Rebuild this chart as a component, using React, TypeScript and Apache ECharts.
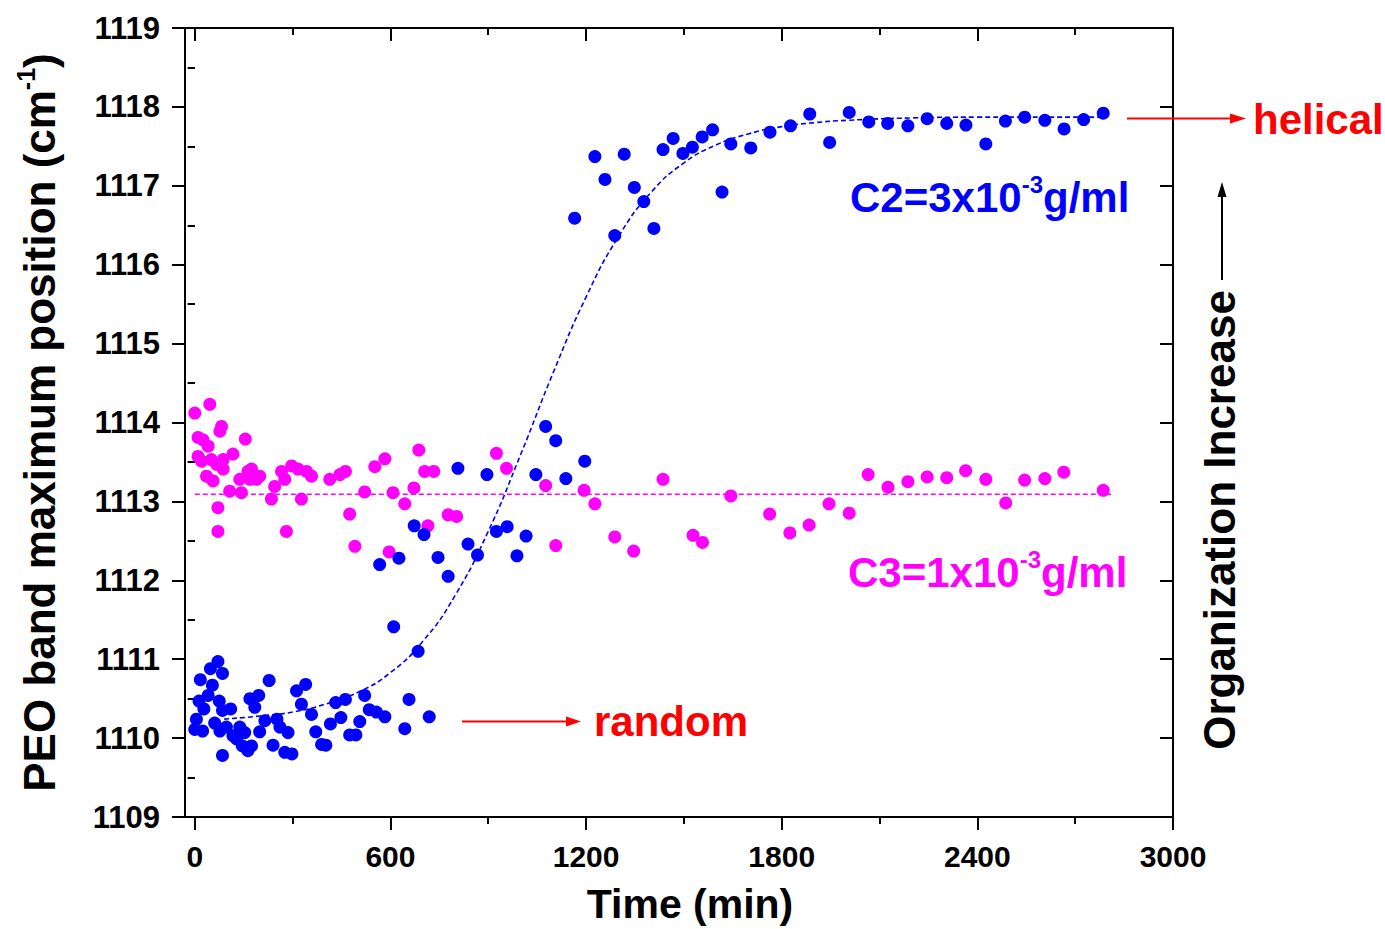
import React, { useEffect, useRef } from 'react';
import * as echarts from 'echarts';

// ---- Data ----
const c2Time = [
  685, 17, 48, 71, 85, 54, 228, 13, 41, 28,
  75, 85, 110, 169, 196, 184, 5, 0, 24, 61,
  77, 97, 117, 138, 153, 128, 146, 174, 163, 85,
  199, 215, 240, 252, 261, 286, 276, 298, 312, 340,
  327, 358, 371, 389, 402, 416, 432, 462, 448, 506,
  475, 494, 521, 535, 557, 583, 644, 657, 719, 567,
  626, 610, 673, 703, 746, 777, 807, 838, 867,
  896, 925, 958, 1016, 988, 1046, 1076, 1107, 1138, 1196,
  1165, 1227, 1258, 1288, 1317, 1348, 1377, 1408, 1436, 1467,
  1497, 1526, 1556, 1588, 1617, 1644, 1705, 1764, 1827, 1886,
  1947, 2007, 2067, 2125, 2187, 2246, 2306, 2365, 2426, 2486,
  2545, 2607, 2666, 2726, 2786,
];
const c2Value = [
  1111.10, 1110.74, 1110.88, 1110.97, 1110.82, 1110.67, 1110.73, 1110.47, 1110.54, 1110.37,
  1110.47, 1110.35, 1110.37, 1110.50, 1110.54, 1110.39, 1110.24, 1110.11, 1110.09, 1110.19,
  1110.09, 1110.14, 1110.03, 1110.14, 1110.07, 1109.99, 1109.90, 1109.90, 1109.84, 1109.78,
  1110.08, 1110.22, 1109.91, 1110.24, 1110.14, 1110.07, 1109.82, 1109.80, 1110.60, 1110.68,
  1110.43, 1110.30, 1110.08, 1109.92, 1109.91, 1110.18, 1110.45, 1110.49, 1110.26, 1110.21,
  1110.04, 1110.04, 1110.54, 1110.36, 1110.33, 1110.27, 1110.12, 1110.49, 1110.27, 1112.20,
  1112.28, 1111.41, 1112.69, 1112.58, 1112.29, 1112.05, 1113.42, 1112.46, 1112.32,
  1113.34, 1112.62, 1112.68, 1112.56, 1112.31, 1113.34, 1113.95, 1113.77, 1113.29, 1113.51,
  1116.59, 1117.37, 1117.08, 1116.37, 1117.40, 1116.98, 1116.80, 1116.46, 1117.46, 1117.60,
  1117.41, 1117.49, 1117.62, 1117.71, 1116.92, 1117.53, 1117.48, 1117.68, 1117.76, 1117.91,
  1117.55, 1117.93, 1117.81, 1117.79, 1117.76, 1117.85, 1117.79, 1117.77, 1117.53, 1117.82,
  1117.87, 1117.83, 1117.72, 1117.84, 1117.92,
];

const c3Time = [
  0, 46, 82, 77, 10, 25, 41, 10, 21, 51,
  87, 67, 87, 117, 155, 36, 56, 71, 71, 107,
  143, 138, 163, 174, 189, 199, 169, 245, 266, 276,
  235, 297, 317, 343, 358, 327, 281, 414, 445, 462,
  521, 475, 491, 552, 583, 596, 608, 644, 672, 687,
  705, 733, 715, 777, 803, 925, 956, 1076, 1194, 1227,
  1107, 1288, 1346, 1436, 1528, 1557, 1644, 1763, 1825, 1884,
  1945, 2007, 2065, 2126, 2187, 2246, 2306, 2364, 2426, 2487,
  2545, 2607, 2665, 2786,
];
const c3Value = [
  1114.12, 1114.23, 1113.95, 1113.89, 1113.81, 1113.78, 1113.70, 1113.57, 1113.51, 1113.53,
  1113.53, 1113.47, 1113.41, 1113.60, 1113.79, 1113.32, 1113.26, 1112.92, 1112.62, 1113.13,
  1113.11, 1113.28, 1113.38, 1113.41, 1113.28, 1113.32, 1113.28, 1113.19, 1113.38, 1113.28,
  1113.03, 1113.45, 1113.41, 1113.38, 1113.32, 1113.03, 1112.62, 1113.28, 1113.34, 1113.38,
  1113.12, 1112.84, 1112.43, 1113.44, 1113.54, 1112.36, 1113.11, 1112.97, 1113.17, 1113.65,
  1113.38, 1113.38, 1112.69, 1112.83, 1112.81, 1113.61, 1113.42, 1113.20, 1113.14, 1112.97,
  1112.44, 1112.55, 1112.37, 1113.28, 1112.57, 1112.48, 1113.07, 1112.84, 1112.60, 1112.70,
  1112.97, 1112.85, 1113.34, 1113.18, 1113.25, 1113.31, 1113.30, 1113.39, 1113.28, 1112.98,
  1113.27, 1113.29, 1113.37, 1113.14,
];

// Fitted curves
const fitC2Time = [90, 200, 300, 400, 500, 600, 700, 800, 900, 1000, 1100, 1200, 1300, 1400, 1500, 1600, 1700, 1800, 1900, 2000, 2200, 2400, 2600, 2800];
const fitC2Value = [1110.24, 1110.28, 1110.33, 1110.43, 1110.58, 1110.83, 1111.23, 1111.82, 1112.62, 1113.60, 1114.64, 1115.59, 1116.36, 1116.92, 1117.29, 1117.52, 1117.66, 1117.75, 1117.80, 1117.83, 1117.86, 1117.87, 1117.87, 1117.87];
const fitC3Time = [0, 2810];
const fitC3Value = [1113.09, 1113.09];

// Axis ticks
const xMajorTicks = [0, 600, 1200, 1800, 2400, 3000];
const xMinorTicks = [300, 900, 1500, 2100, 2700];
const yMajorTicks = [1109, 1110, 1111, 1112, 1113, 1114, 1115, 1116, 1117, 1118, 1119];
const yMinorTicks = [1109.5, 1110.5, 1111.5, 1112.5, 1113.5, 1114.5, 1115.5, 1116.5, 1117.5, 1118.5];

const FONT = "'Liberation Sans', Arial, Helvetica, sans-serif";
const BLUE = '#0000ff';
const MAGENTA = '#ff00ff';
const RED = '#ff0000';

const zip = (a: number[], b: number[]) => a.map((v, i) => [v, b[i]]);
const plain = (v: number) => String(v);

export default function App() {
  const ref = useRef<HTMLDivElement>(null);

  useEffect(() => {
    if (!ref.current) return;
    const chart = echarts.init(ref.current, null, { renderer: 'svg' });

    const xBase = { type: 'value', min: -30, max: 3000, splitLine: { show: false } };
    const yBase = { type: 'value', min: 1109, max: 1119, splitLine: { show: false } };
    const axisLine = { show: true, onZero: false, lineStyle: { color: '#000', width: 2 } };
    const noLine = { show: false };
    const noLabel = { show: false };

    const option: any = {
      animation: false,
      backgroundColor: '#ffffff',
      grid: { left: 185, right: 212, top: 28, bottom: 111, containLabel: false },
      xAxis: [
        {
          ...xBase,
          position: 'bottom',
          axisLine,
          axisTick: { show: true, inside: false, length: 13, customValues: xMajorTicks, lineStyle: { color: '#000', width: 2 } },
          axisLabel: {
            show: true, customValues: xMajorTicks, margin: 24, formatter: plain,
            color: '#000', fontSize: 30, fontWeight: 'bold', fontFamily: FONT,
          },
          name: 'Time (min)',
          nameLocation: 'middle',
          nameGap: 66,
          nameTextStyle: { color: '#000', fontSize: 41, fontWeight: 'bold', fontFamily: FONT, padding: [0, 0, 0, 22] },
        },
        {
          ...xBase, position: 'bottom', axisLine: noLine, axisLabel: noLabel,
          axisTick: { show: true, inside: false, length: 7, customValues: xMinorTicks, lineStyle: { color: '#000', width: 2 } },
        },
        {
          ...xBase, position: 'top', axisLine, axisLabel: noLabel,
          axisTick: { show: true, inside: true, length: 13, customValues: xMajorTicks, lineStyle: { color: '#000', width: 2 } },
        },
        {
          ...xBase, position: 'top', axisLine: noLine, axisLabel: noLabel,
          axisTick: { show: true, inside: true, length: 7, customValues: xMinorTicks, lineStyle: { color: '#000', width: 2 } },
        },
      ],
      yAxis: [
        {
          ...yBase,
          position: 'left',
          axisLine,
          axisTick: { show: true, inside: false, length: 13, customValues: yMajorTicks, lineStyle: { color: '#000', width: 2 } },
          axisLabel: {
            show: true, customValues: yMajorTicks, margin: 25, formatter: plain,
            color: '#000', fontSize: 31, fontWeight: 'bold', fontFamily: FONT,
          },
          name: '{a|PEO band maximum position (cm}{s|-1}{a|)}',
          nameLocation: 'middle',
          nameGap: 120,
          nameTextStyle: {
            rich: {
              a: { fontSize: 44, fontWeight: 'bold', fontFamily: FONT, color: '#000', lineHeight: 52 },
              s: { fontSize: 25, fontWeight: 'bold', fontFamily: FONT, color: '#000', lineHeight: 25, verticalAlign: 'top' },
            },
          },
        },
        {
          ...yBase, position: 'left', axisLine: noLine, axisLabel: noLabel,
          axisTick: { show: true, inside: false, length: 7, customValues: yMinorTicks, lineStyle: { color: '#000', width: 2 } },
        },
        {
          ...yBase, position: 'right', axisLine, axisLabel: noLabel,
          axisTick: { show: true, inside: true, length: 13, customValues: yMajorTicks, lineStyle: { color: '#000', width: 2 } },
        },
        {
          ...yBase, position: 'right', axisLine: noLine, axisLabel: noLabel,
          axisTick: { show: true, inside: true, length: 7, customValues: yMinorTicks, lineStyle: { color: '#000', width: 2 } },
        },
      ],
      series: [
        {
          name: 'C3 fit', type: 'line', xAxisIndex: 0, yAxisIndex: 0,
          data: zip(fitC3Time, fitC3Value), showSymbol: false, z: 1,
          lineStyle: { color: MAGENTA, width: 1.6, type: [5, 3] },
        },
        {
          name: 'C2 fit', type: 'line', xAxisIndex: 0, yAxisIndex: 0, smooth: true,
          data: zip(fitC2Time, fitC2Value), showSymbol: false, z: 1,
          lineStyle: { color: BLUE, width: 1.6, type: [5, 3] },
        },
        {
          name: 'C3', type: 'scatter', xAxisIndex: 0, yAxisIndex: 0,
          data: zip(c3Time, c3Value), symbol: 'circle', symbolSize: 13, z: 2,
          itemStyle: { color: MAGENTA, opacity: 1 },
        },
        {
          name: 'C2', type: 'scatter', xAxisIndex: 0, yAxisIndex: 0,
          data: zip(c2Time, c2Value), symbol: 'circle', symbolSize: 13, z: 3,
          itemStyle: { color: BLUE, opacity: 1 },
        },
      ],
      graphic: [
        {
          type: 'text', x: 850, y: 197, z: 10,
          style: {
            text: '{a|C2=3x10}{s|-3}{a|g/ml}', verticalAlign: 'middle', align: 'left',
            rich: {
              a: { fontSize: 42, fontWeight: 'bold', fontFamily: FONT, fill: BLUE, lineHeight: 50 },
              s: { fontSize: 24, fontWeight: 'bold', fontFamily: FONT, fill: BLUE, lineHeight: 24, verticalAlign: 'top' },
            },
          },
        },
        {
          type: 'text', x: 848, y: 572, z: 10,
          style: {
            text: '{a|C3=1x10}{s|-3}{a|g/ml}', verticalAlign: 'middle', align: 'left',
            rich: {
              a: { fontSize: 42, fontWeight: 'bold', fontFamily: FONT, fill: MAGENTA, lineHeight: 50 },
              s: { fontSize: 24, fontWeight: 'bold', fontFamily: FONT, fill: MAGENTA, lineHeight: 24, verticalAlign: 'top' },
            },
          },
        },
        {
          type: 'text', x: 594, y: 721, z: 10,
          style: { text: 'random', fill: RED, fontSize: 42, fontWeight: 'bold', fontFamily: FONT, verticalAlign: 'middle', align: 'left' },
        },
        {
          type: 'text', x: 1253, y: 119, z: 10,
          style: { text: 'helical', fill: RED, fontSize: 42, fontWeight: 'bold', fontFamily: FONT, verticalAlign: 'middle', align: 'left' },
        },
        {
          type: 'text', x: 1219, y: 520, rotation: Math.PI / 2, z: 10,
          style: { text: 'Organization Increase', fill: '#000', fontSize: 44, fontWeight: 'bold', fontFamily: FONT, verticalAlign: 'middle', align: 'center' },
        },
        // arrows
        { type: 'line', z: 10, shape: { x1: 462, y1: 721.5, x2: 570, y2: 721.5 }, style: { stroke: RED, lineWidth: 2 } },
        { type: 'polygon', z: 10, shape: { points: [[566, 716.5], [581, 721.5], [566, 726.5]] }, style: { fill: RED } },
        { type: 'line', z: 10, shape: { x1: 1127, y1: 118.5, x2: 1235, y2: 118.5 }, style: { stroke: RED, lineWidth: 2 } },
        { type: 'polygon', z: 10, shape: { points: [[1230, 113.5], [1246, 118.5], [1230, 123.5]] }, style: { fill: RED } },
        { type: 'line', z: 10, shape: { x1: 1222, y1: 280, x2: 1222, y2: 192 }, style: { stroke: '#000', lineWidth: 2 } },
        { type: 'polygon', z: 10, shape: { points: [[1217.5, 197], [1222, 182], [1226.5, 197]] }, style: { fill: '#000' } },
      ],
    };

    chart.setOption(option);
    return () => chart.dispose();
  }, []);

  return (
    <div
      ref={ref}
      style={{ position: 'fixed', left: 0, top: 0, width: 1385, height: 929, background: '#fff' }}
    />
  );
}
